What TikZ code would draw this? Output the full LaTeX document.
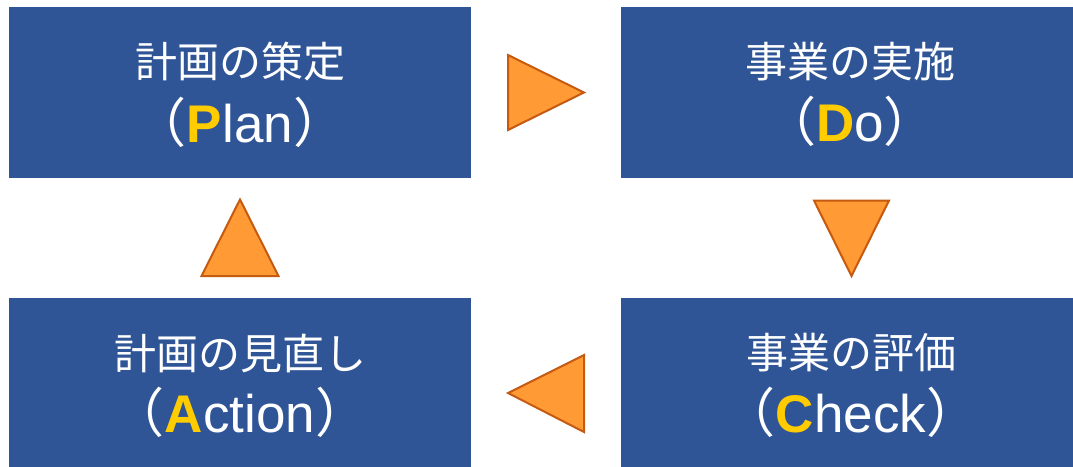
\documentclass[tikz,border=0pt]{standalone}
\usepackage{fontspec}
\setmainfont{Liberation Sans}
\newfontfamily\jp{Noto Sans CJK JP}
\definecolor{boxblue}{HTML}{2F5597}
\definecolor{triFill}{HTML}{FF9A35}
\definecolor{triLine}{HTML}{C55A11}
\definecolor{letterY}{HTML}{FFCC00}
\tikzset{
  box/.style={fill=boxblue, draw=none, inner sep=0pt},
  tri/.style={fill=triFill, draw=triLine, line width=2pt, line join=miter},
  jline/.style={text=white, inner sep=0pt, font=\jp\fontsize{42}{42}\selectfont},
  eline/.style={text=white, inner sep=0pt, anchor=base, font=\fontsize{53}{53}\selectfont},
}
\newcommand{\hl}[1]{\textcolor{letterY}{\bfseries #1}}
\begin{document}
\begin{tikzpicture}[x=1pt,y=-1pt]
\useasboundingbox (0,0) rectangle (1073,466);
\clip (0,0) rectangle (1073,466);
\fill[white] (0,0) rectangle (1073,466);
% boxes
\node[box, minimum width=462pt, minimum height=171pt] (planbox) at (240,92.5) {};
\node[box, minimum width=459pt, minimum height=171pt] (dobox) at (850.5,92.5) {};
\node[box, minimum width=462pt, minimum height=171pt] (actbox) at (240,383.5) {};
\node[box, minimum width=459pt, minimum height=171pt] (chkbox) at (850.5,383.5) {};
% texts
\node[jline] (planj) at (240,62) {計画の策定};
\node[eline] (plane) at (240,142) {{\jp （}\hl{P}lan{\jp ）}};
\node[jline] (doj) at (850,62) {事業の実施};
\node[eline] (doe) at (850,141) {{\jp （}\hl{D}o{\jp ）}};
\node[jline] (chkj) at (851,353) {事業の評価};
\node[eline] (chke) at (851,432) {{\jp （}\hl{C}heck{\jp ）}};
\node[jline] (actj) at (240,353) {計画の見直し};
\node[eline] (acte) at (240,432) {{\jp （}\hl{A}ction{\jp ）}};
% triangles
\draw[tri] (508,55) -- (584,92.5) -- (508,130) -- cycle;
\draw[tri] (814,200.5) -- (889,200.5) -- (851.5,276) -- cycle;
\draw[tri] (584,355) -- (508,393) -- (584,432) -- cycle;
\draw[tri] (240,199.5) -- (278.5,276) -- (201.5,276) -- cycle;
\end{tikzpicture}
\end{document}
